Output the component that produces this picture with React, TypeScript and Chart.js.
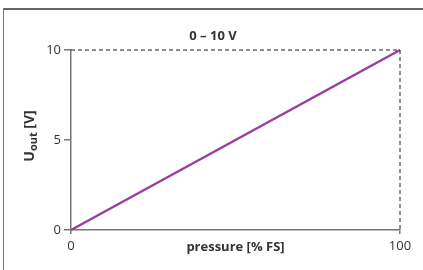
import React, { useEffect, useRef } from "react";
import { Chart, registerables } from "chart.js";

Chart.register(...registerables);

const pressure = [0, 100];
const voltage = [0, 10];
const limitX = [0, 100, 100];
const limitY = [10, 10, 0];
const xTicks = [0, 100];
const yTicks = [0, 5, 10];
const chartTitle = "0 – 10 V";
const xTitle = "pressure [% FS]";

const FONT = "'Open Sans', 'Noto Sans', sans-serif";

const titlePlugin = {
  id: "titles",
  afterDraw(chart: any) {
    const ctx = chart.ctx as CanvasRenderingContext2D;
    const a = chart.chartArea;
    ctx.save();
    ctx.fillStyle = "#333";
    ctx.textAlign = "center";
    ctx.textBaseline = "middle";
    ctx.font = `bold 13px ${FONT}`;
    ctx.fillText(chartTitle, 213, 36);
    ctx.font = `bold 13px ${FONT}`;
    ctx.fillText(xTitle, (a.left + a.right) / 2, 247);
    // y title with subscript
    ctx.translate(29, 136);
    ctx.rotate(-Math.PI / 2);
    const big = `bold 14px ${FONT}`;
    const small = `bold 11px ${FONT}`;
    ctx.font = big;
    const wU = ctx.measureText("U").width;
    const wRest = ctx.measureText(" [V]").width;
    ctx.font = small;
    const wSub = ctx.measureText("out").width;
    const total = wU + wSub + wRest;
    let x = -total / 2;
    ctx.textAlign = "left";
    ctx.textBaseline = "alphabetic";
    ctx.font = big;
    ctx.fillText("U", x, 5);
    x += wU;
    ctx.font = small;
    ctx.fillText("out", x, 8);
    x += wSub;
    ctx.font = big;
    ctx.fillText(" [V]", x, 5);
    ctx.restore();
  },
};

export default function App() {
  const ref = useRef<HTMLCanvasElement>(null);
  useEffect(() => {
    if (!ref.current) return;
    const chart = new Chart(ref.current, {
      type: "line",
      data: {
        datasets: [
          {
            data: limitX.map((x, i) => ({ x, y: limitY[i] })),
            borderColor: "#222",
            borderWidth: 1,
            borderDash: [4, 3],
            pointRadius: 0,
            fill: false,
          },
          {
            data: pressure.map((x, i) => ({ x, y: voltage[i] })),
            borderColor: "#9a3d9f",
            borderWidth: 2.5,
            pointRadius: 0,
            fill: false,
          },
        ],
      },
      plugins: [titlePlugin],
      options: {
        animation: false,
        responsive: false,
        clip: false as any,
        layout: { padding: { left: 0, right: 23, top: 50, bottom: 0 } },
        plugins: { legend: { display: false }, tooltip: { enabled: false }, title: { display: false } },
        scales: {
          x: {
            type: "linear",
            min: 0,
            max: 100,
            afterBuildTicks: (s: any) => {
              s.ticks = xTicks.map((v) => ({ value: v }));
            },
            afterFit: (s: any) => {
              s.height = 40;
            },
            grid: { drawOnChartArea: false, drawTicks: true, tickLength: 4, color: "#777", lineWidth: 1.5 },
            border: { display: true, color: "#777", width: 1.5 },
            ticks: { color: "#333", font: { family: FONT, size: 13 }, padding: 4, maxRotation: 0 },
          },
          y: {
            type: "linear",
            min: 0,
            max: 10,
            afterBuildTicks: (s: any) => {
              s.ticks = yTicks.map((v) => ({ value: v }));
            },
            afterFit: (s: any) => {
              s.width = 71;
            },
            grid: { drawOnChartArea: false, drawTicks: true, tickLength: 7, color: "#777", lineWidth: 1.5 },
            border: { display: true, color: "#777", width: 1.5 },
            ticks: { color: "#333", font: { family: FONT, size: 13 }, padding: 3 },
          },
        },
      },
    });
    return () => chart.destroy();
  }, []);
  return (
    <div style={{ position: "fixed", left: 0, top: 0, width: 423, height: 270, background: "#fff" }}>
      <div
        style={{
          position: "absolute",
          left: 3,
          top: 8,
          width: 430,
          height: 280,
          borderLeft: "1.5px solid #777",
          borderTop: "2px solid #666",
        }}
      />
      <canvas ref={ref} width={423} height={270} style={{ position: "absolute", left: 0, top: 0 }} />
    </div>
  );
}
